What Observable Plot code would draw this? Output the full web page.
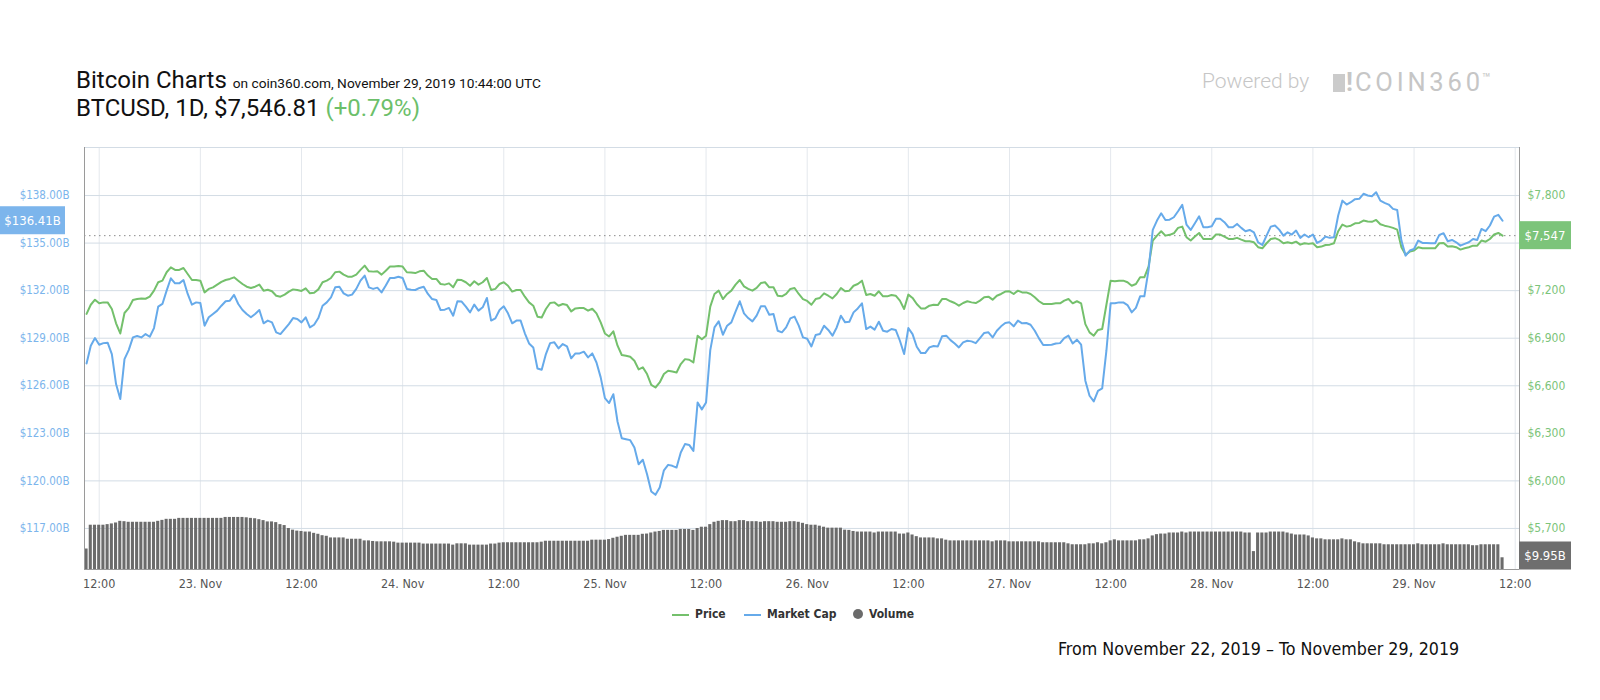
<!DOCTYPE html>
<html><head><meta charset="utf-8">
<script src="https://cdn.jsdelivr.net/npm/d3@7"></script>
<script src="https://cdn.jsdelivr.net/npm/@observablehq/plot@0.6"></script>
<style>
html,body{margin:0;padding:0;background:#fff;}
#page{position:relative;width:1600px;height:700px;overflow:hidden;font-family:Roboto,"Noto Sans",sans-serif;}
.abs{position:absolute;white-space:nowrap;}
#t1{left:76px;top:66px;font-size:24px;line-height:28px;color:#111;}
#t1 small{font-size:13.7px;color:#111;}
#t2{left:76px;top:94px;font-size:24px;line-height:28px;color:#111;}
#t2 .chg{color:#6cbf6a;}
#pw{left:1202px;top:67px;font-size:21px;line-height:28px;color:#c6c6c6;font-weight:300;}
#logo{left:1333px;top:64px;font-size:25.5px;line-height:28px;color:#c6c6c6;font-weight:400;letter-spacing:3.8px;}
#logo .blk{display:inline-block;width:12px;height:18px;background:#cbcbcb;margin-right:1px;vertical-align:-1px;}
#logo .ex{font-weight:700;letter-spacing:0;margin-right:2px;}
#logo sup{font-size:14px;letter-spacing:0;vertical-align:8px;margin-left:-2px;}
#chart{position:absolute;left:0;top:140px;}
.leg{position:absolute;top:606px;height:16px;font-family:"DejaVu Sans Condensed","DejaVu Sans",sans-serif;font-weight:700;font-size:12px;line-height:16px;color:#333;}
.sw{position:absolute;height:2px;width:17px;}
.dot{position:absolute;width:10px;height:10px;border-radius:50%;background:#6b6b6b;}
#foot{left:1058px;top:638px;font-family:"DejaVu Sans Condensed","DejaVu Sans",sans-serif;font-size:17.7px;line-height:22px;color:#111;}
</style></head>
<body><div id="page">
<div id="t1" class="abs">Bitcoin Charts <small>on coin360.com, November 29, 2019 10:44:00 UTC</small></div>
<div id="t2" class="abs">BTCUSD, 1D, $7,546.81 <span class="chg">(+0.79%)</span></div>
<div id="pw" class="abs">Powered by</div>
<div id="logo" class="abs"><span class="blk"></span><span class="ex">!</span>COIN360<sup>™</sup></div>
<div id="chart"></div>
<div class="sw" style="left:672px;top:614px;background:#74c06c"></div>
<div class="leg" style="left:695px">Price</div>
<div class="sw" style="left:744px;top:614px;background:#66aaea"></div>
<div class="leg" style="left:767px">Market Cap</div>
<div class="dot" style="left:853px;top:609px"></div>
<div class="leg" style="left:869px">Volume</div>
<div id="foot" class="abs">From November 22, 2019 – To November 29, 2019</div>
</div>
<script>
// ---- data (30-minute samples, UTC) ----
const startTime = "2019-11-22T10:30:00Z";
const stepMinutes = 30;

const price = [
7053,7111,7143,7120,7126,7126,7084,6994,6930,7059,
7090,7141,7147,7151,7149,7162,7200,7253,7263,7316,
7347,7331,7331,7343,7305,7267,7267,7263,7189,7211,
7221,7238,7255,7267,7274,7284,7263,7242,7225,7217,
7225,7238,7200,7206,7196,7168,7162,7175,7194,7208,
7204,7198,7215,7183,7187,7208,7253,7263,7280,7316,
7320,7301,7288,7288,7301,7331,7358,7322,7320,7322,
7301,7326,7352,7352,7356,7352,7316,7314,7311,7322,
7326,7295,7274,7274,7242,7238,
7246,7221,7269,7267,7253,7231,7259,7238,7253,7280,
7204,7211,7242,7253,7231,7194,7204,7204,7162,7126,
7105,7036,7031,7084,7122,7126,7105,7116,7109,7069,
7088,7090,7090,7074,7086,7057,7000,6930,6911,6943,
6853,6794,6789,6783,6758,6703,6716,6674,6606,6589,
6621,6674,6695,6690,6684,6737,6768,6764,6747,6916,
6893,6916,7099,7179,7200,7147,7179,7200,7238,7267,
7227,7211,7200,7217,7248,7253,7221,7221,7168,7164,
7179,7211,7217,7179,7147,
7135,7111,7147,7154,7183,7168,7151,7179,7217,7196,
7200,7231,7242,7263,7173,7179,7168,7196,7164,7164,
7173,7168,7137,7084,7175,7154,7116,7088,7088,7105,
7111,7109,7147,7147,7133,7122,7105,7122,7133,7126,
7122,7137,7158,7162,7143,7168,7179,7194,7196,7179,
7200,7189,7189,7179,7158,7133,7116,7116,7116,7120,
7120,7137,7147,7120,7133,7120,6989,6937,6916,6952,
6958,7111,7263,7259,7263,7263,7253,7231,7242,7284,
7284,7352,7516,7547,7575,7547,
7552,7562,7596,7604,7537,7516,7541,7564,7526,7526,
7526,7554,7554,7541,7526,7526,7533,7522,7512,7512,
7505,7474,7467,7499,7526,7531,7520,7499,7505,7499,
7509,7490,7499,7495,7499,7474,7478,7488,7490,7499,
7575,7617,7604,7610,7625,7627,7642,7636,7634,7646,
7619,7610,7604,7596,7585,7474,7427,7446,7453,7474,
7467,7467,7467,7467,7499,7501,7478,7480,7474,7459,
7467,7474,7484,7484,7516,7509,7526,7554,7564,7547
];

const marketCap = [
127.41,128.53,129.01,128.59,128.69,128.72,128.00,126.11,125.16,127.68,
128.25,129.05,129.14,129.05,129.26,129.09,129.64,130.99,131.16,132.00,
132.78,132.46,132.46,132.67,131.79,131.12,131.26,131.22,129.79,130.32,
130.53,130.74,131.05,131.33,131.37,131.73,131.16,130.78,130.53,130.32,
130.53,130.78,129.94,130.11,130.00,129.37,129.26,129.58,129.89,130.27,
130.21,130.00,130.32,129.68,129.85,130.27,131.05,131.26,131.58,132.21,
132.25,131.83,131.68,131.75,132.11,132.63,132.95,132.21,132.11,132.19,
131.89,132.32,132.80,132.80,132.88,132.80,132.11,132.06,132.04,132.17,
132.25,131.79,131.47,131.41,130.78,130.80,
130.91,130.42,131.33,131.31,130.99,130.63,131.12,130.74,130.95,131.54,
130.11,130.25,130.78,131.01,130.57,129.94,130.11,130.11,129.31,128.67,
128.42,127.09,127.01,128.00,128.69,128.74,128.36,128.63,128.48,127.73,
128.04,128.04,128.15,127.79,128.04,127.47,126.53,125.22,124.91,125.47,
123.73,122.69,122.63,122.57,122.11,121.05,121.33,120.42,119.33,119.12,
119.58,120.67,121.01,120.95,120.84,121.79,122.32,122.27,121.89,124.95,
124.51,124.95,128.25,129.68,130.06,129.22,129.79,130.00,130.67,131.33,
130.57,130.27,130.06,130.42,131.01,131.01,130.48,130.53,129.47,129.37,
129.68,130.25,130.36,129.79,129.05,
128.97,128.48,129.20,129.26,129.79,129.52,129.16,129.68,130.42,130.00,
130.04,130.63,130.88,131.20,129.58,129.73,129.54,130.04,129.47,129.41,
129.58,129.52,128.84,128.00,129.64,129.26,128.46,128.06,128.06,128.42,
128.51,128.48,129.12,129.16,128.88,128.67,128.42,128.74,128.84,128.80,
128.69,129.01,129.33,129.37,129.05,129.47,129.75,129.96,130.00,129.75,
130.11,129.94,129.96,129.85,129.47,128.99,128.57,128.57,128.59,128.67,
128.69,129.01,129.16,128.67,128.91,128.59,126.32,125.37,125.01,125.68,
125.83,128.21,131.20,131.20,131.26,131.26,131.09,130.63,130.91,131.64,
131.64,133.31,135.83,136.42,136.88,136.46,
136.48,136.63,137.01,137.41,136.17,135.83,136.25,136.69,136.00,136.00,
136.06,136.53,136.53,136.32,136.00,136.00,136.21,135.96,135.75,135.83,
135.68,135.05,134.88,135.47,136.04,136.11,135.85,135.47,135.68,135.54,
135.79,135.33,135.54,135.37,135.54,135.01,135.16,135.41,135.33,135.37,
136.74,137.68,137.43,137.58,137.77,137.79,138.11,138.00,137.96,138.21,
137.68,137.54,137.43,137.16,137.09,135.16,134.21,134.53,134.63,135.16,
135.01,135.01,134.99,134.99,135.52,135.62,135.12,135.20,135.05,134.84,
134.95,135.05,135.26,135.20,135.89,135.75,136.11,136.67,136.78,136.41
];

// volume in $B, as [value, number of consecutive 30-min bars]
const volumeRuns = [
[17.4,1],[37.6,4],[38.1,1],[38.7,1],[39.5,1],[40.9,1],[40.6,1],[40.1,7],[40.9,1],[41.7,1],
[42.6,3],[43.4,11],[44.2,5],[43.9,1],[43.4,1],[43.1,1],[42.3,1],[41.5,1],[40.4,2],[39.8,1],
[38.1,1],[37.3,1],[34.8,1],[33.4,1],[32.6,1],[32.3,1],[31.8,2],[30.7,1],[29.9,1],[28.7,1],
[28.2,1],[26.8,4],[25.7,4],[24.3,2],[23.8,1],[23.5,4],[23.2,1],[22.4,6],[21.6,7],[20.7,1],
[21.8,3],[20.7,5],[21.6,2],[22.4,1],[22.7,9],[23.2,1],[24.0,11],[24.9,4],[25.4,1],[26.5,1],
[27.4,1],[28.2,1],[29.0,4],[29.9,1],[30.1,1],[31.0,1],[31.8,1],[32.3,1],[33.2,4],[34.0,3],
[33.2,1],[34.8,1],[35.9,2],[38.1,1],[40.1,1],[40.9,1],[41.5,2],[40.6,2],[41.5,2],[40.6,3],
[40.1,1],[40.6,3],[40.1,3],[40.6,2],[40.1,1],[39.2,1],[38.1,1],[37.6,2],[36.8,1],[35.9,1],
[35.1,4],[33.4,1],[33.2,1],[32.3,1],[31.8,4],[31.0,1],[31.8,5],[30.1,2],[31.0,1],[29.3,1],
[27.9,1],[26.8,4],[26.0,2],[24.9,1],[24.3,10],[23.5,1],[24.3,3],[23.5,8],[22.7,6],[21.8,1],
[21.0,4],[21.8,2],[22.7,1],[21.8,1],[22.7,1],[24.3,1],[25.2,1],[24.3,5],[25.2,2],[26.0,1],
[28.5,1],[29.6,1],[30.1,2],[31.0,3],[31.8,1],[31.0,1],[31.8,13],[31.0,2],[15.2,1],[31.0,3],
[31.8,4],[31.0,1],[30.1,1],[29.3,3],[28.5,1],[26.8,1],[26.0,2],[25.2,4],[26.0,1],[25.2,2],
[23.5,1],[22.7,1],[21.8,5],[21.0,8],[21.8,1],[21.0,5],[21.8,1],[21.0,6],[20.2,2],[21.0,5],
[9.95,1]
];

const capTicks = [117,120,123,126,129,132,135,138];
const priceTicks = [5700,6000,6300,6600,6900,7200,7500,7800];
const xTicks = ["2019-11-22T12:00Z","2019-11-23T00:00Z","2019-11-23T12:00Z","2019-11-24T00:00Z",
  "2019-11-24T12:00Z","2019-11-25T00:00Z","2019-11-25T12:00Z","2019-11-26T00:00Z","2019-11-26T12:00Z",
  "2019-11-27T00:00Z","2019-11-27T12:00Z","2019-11-28T00:00Z","2019-11-28T12:00Z","2019-11-29T00:00Z",
  "2019-11-29T12:00Z"];
const xTickLabels = ["12:00","23. Nov","12:00","24. Nov","12:00","25. Nov","12:00","26. Nov","12:00",
  "27. Nov","12:00","28. Nov","12:00","29. Nov","12:00"];
const lastPrice = 7546.81, lastCap = 136.41, lastVolume = 9.95;

// ---- build ----
const volume = volumeRuns.flatMap(([v, n]) => Array(n).fill(v));
const t0 = new Date(startTime).getTime();
const rows = price.map((p, i) => ({
  t: new Date(t0 + i * stepMinutes * 60000), price: p, cap: marketCap[i], vol: volume[i] ?? volume[volume.length - 1]
}));
const priceToAxis = d3.scaleLinear().domain([priceTicks[0], priceTicks[priceTicks.length - 1]])
  .range([capTicks[0], capTicks[capTicks.length - 1]]);
const yMin = 114.41, yMax = 141.03;
const volUnit = 0.0743;               // axis units per $1B of volume
const volToAxis = v => yMin + v * volUnit;
const xMin = new Date("2019-11-22T10:15:20Z"), xMax = new Date("2019-11-29T12:30:40Z");
const tickDates = xTicks.map(s => new Date(s));
const xLabel = new Map(tickDates.map((d, i) => [+d, xTickLabels[i]]));
const priceLabel = new Map(capTicks.map((c, i) => [c, "$" + d3.format(",")(priceTicks[i])]));
const halfBar = 11 * 60000;
const narrow = "'DejaVu Sans Condensed','DejaVu Sans',sans-serif";
// the current-price flag covers the right-axis tick label it sits on (as in the original)
const priceFlagAxis = priceToAxis(lastPrice);
const rightTicks = capTicks.filter(c => Math.abs(c - priceFlagAxis) > 1.6);

const chart = Plot.plot({
  width: 1600, height: 460,
  marginLeft: 84, marginRight: 81, marginTop: 7, marginBottom: 31,
  x: {type: "utc", domain: [xMin, xMax]},
  y: {domain: [yMin, yMax]},
  style: {fontFamily: narrow, fontSize: "12px", background: "transparent", overflow: "visible"},
  marks: [
    Plot.gridX(tickDates, {stroke: "#e4e8ed", strokeOpacity: 1}),
    Plot.gridY(capTicks, {stroke: "#d3dce5", strokeOpacity: 1}),
    Plot.ruleY([yMax], {stroke: "#d3dce5"}),
    Plot.rect(rows, {
      x1: d => new Date(+d.t - halfBar), x2: d => new Date(+d.t + halfBar),
      y1: () => yMin, y2: d => volToAxis(d.vol), fill: "#6b6b6b", clip: true
    }),
    Plot.ruleY([priceFlagAxis], {stroke: "#8a8a8a", strokeDasharray: "1.5,3.5"}),
    Plot.line(rows, {x: "t", y: d => priceToAxis(d.price), stroke: "#74c06c", strokeWidth: 2}),
    Plot.line(rows, {x: "t", y: "cap", stroke: "#66aaea", strokeWidth: 2}),
    Plot.ruleX([xMin], {stroke: "#9a9a9a"}),
    Plot.ruleX([xMax], {stroke: "#9a9a9a"}),
    Plot.ruleY([yMin], {stroke: "#9a9a9a"}),
    Plot.axisX(tickDates, {tickSize: 0, tickPadding: 10, tickFormat: d => xLabel.get(+d), color: "#555", fontSize: 12.5, label: null}),
    Plot.axisY(capTicks, {anchor: "left", tickSize: 0, tickPadding: 15, tickFormat: d => `$${d.toFixed(2)}B`, color: "#7cb5ec", fontSize: 11.5, label: null}),
    Plot.axisY(rightTicks, {anchor: "right", tickSize: 0, tickPadding: 8, tickFormat: d => priceLabel.get(d), color: "#7cc47a", fontSize: 12, label: null})
  ]
});
document.getElementById("chart").appendChild(chart);

// value flags on the axes, positioned through the plot's own scales
const ys = chart.scale("y");
const plotBottom = ys.apply(yMin);
const flags = [
  {x: 0, w: 65, cy: ys.apply(lastCap), fill: "#7cb5ec", text: `$${lastCap.toFixed(2)}B`},
  {x: 1519, w: 52, cy: ys.apply(priceFlagAxis), fill: "#7cc47a", text: "$" + d3.format(",")(Math.round(lastPrice))},
  {x: 1519, w: 52, cy: Math.min(ys.apply(volToAxis(lastVolume)), plotBottom - 13.5), fill: "#6e6e6e", text: `$${lastVolume.toFixed(2)}B`}
];
const g = d3.select(chart).append("g");
g.selectAll("rect").data(flags).join("rect")
  .attr("x", d => d.x).attr("width", d => d.w).attr("y", d => d.cy - 14).attr("height", 28).attr("fill", d => d.fill);
g.selectAll("text").data(flags).join("text")
  .attr("x", d => d.x + d.w / 2).attr("y", d => d.cy).attr("dy", "0.35em")
  .attr("text-anchor", "middle").attr("fill", "#fff").attr("font-size", 13).attr("font-family", narrow)
  .text(d => d.text);
</script>
</body></html>
